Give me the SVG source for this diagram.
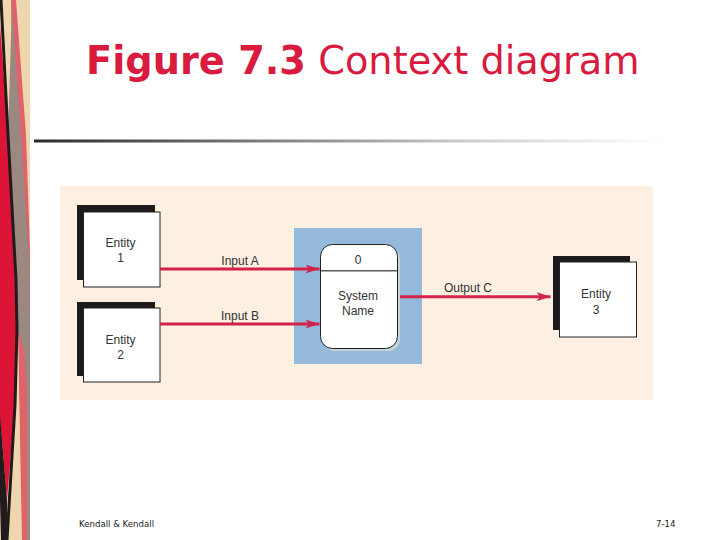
<svg xmlns="http://www.w3.org/2000/svg" width="720" height="540" viewBox="0 0 720 540">
  <style>
    .lbl { font-family: "Liberation Sans", Arial, sans-serif; font-size: 12px; fill: #333333; text-anchor: middle; }
    .ent { fill: #ffffff; stroke: #222222; stroke-width: 1; }
    .shd { fill: #1c1a1a; }
    .flow { stroke: #d2234a; stroke-width: 3; fill: none; marker-end: url(#arr); }
    .foot { font-family: "DejaVu Sans", Verdana, sans-serif; font-size: 8.6px; fill: #222222; }
  </style>
  <defs>
    <marker id="arr" markerUnits="userSpaceOnUse" markerWidth="16" markerHeight="10" refX="14" refY="5" orient="auto" viewBox="0 0 16 10">
      <path d="M0,0.5 L14,5 L0,9.5 L3.5,5 z" fill="#d2234a"/>
    </marker>
    <linearGradient id="sep" x1="0" y1="0" x2="1" y2="0">
      <stop offset="0" stop-color="#2a2a2a"/>
      <stop offset="0.35" stop-color="#7a7a7a"/>
      <stop offset="0.7" stop-color="#cfcfcf"/>
      <stop offset="1" stop-color="#ffffff"/>
    </linearGradient>
  </defs>

  <rect x="0" y="0" width="720" height="540" fill="#ffffff"/>

  <!-- left decoration -->
  <g id="decoration">
    <rect x="0" y="0" width="30" height="540" fill="#eed7ae"/>
    <polygon points="11,0 16,0 26,135 30,250 30,540 21,540 18,330" fill="#e0626a"/>
    <polygon points="12,4 8,135 16,280 18,330 24,350 27,390 27,540 30,540 30,270 21,135" fill="#9b8880"/>
    <polygon points="18,335 22,540 9,540" fill="#eed7ae"/>
    <polygon points="0,25 8,135 16,280 17,330 15,405 7,500 2,440 0,420" fill="#dc1538"/>
    <path d="M1,0 L8,135 L16,280 L17,330 L15,405 L7,540" stroke="#231a1c" stroke-width="3" fill="none"/>
    <polygon points="0,415 7,500 7,540 1,540 0,500" fill="#231a1c"/>
  </g>

  <!-- title -->
  <g id="title">
    <text x="86" y="74" font-family="'DejaVu Sans', Verdana, sans-serif" font-size="38.3" fill="#d81b3f"><tspan font-weight="bold">Figure 7.3</tspan> Context diagram</text>
    <rect x="34" y="139.5" width="630" height="3" fill="url(#sep)"/>
  </g>

  <!-- panel -->
  <rect id="panel" x="60" y="186" width="593" height="214" fill="#fdefe2"/>

  <g id="system-bg">
    <rect x="294" y="228" width="128" height="136" fill="#95b9db"/>
  </g>

  <g id="entity1">
    <rect class="shd" x="77" y="205" width="78" height="75"/>
    <rect class="ent" x="83.5" y="212" width="76.5" height="75"/>
    <text class="lbl" x="120.5" y="246.5">Entity</text>
    <text class="lbl" x="120.5" y="261.5">1</text>
  </g>

  <g id="entity2">
    <rect class="shd" x="77" y="302" width="78" height="74"/>
    <rect class="ent" x="83.5" y="308" width="76.5" height="74"/>
    <text class="lbl" x="120.5" y="343.5">Entity</text>
    <text class="lbl" x="120.5" y="358.5">2</text>
  </g>

  <g id="process0">
    <rect x="323" y="247" width="77" height="104" rx="12" fill="#c4d4da"/>
    <rect x="320.5" y="244.5" width="77" height="104" rx="12" fill="#ffffff" stroke="#222222" stroke-width="1"/>
    <line x1="321" y1="270.7" x2="397" y2="270.7" stroke="#5a5a5a" stroke-width="1.4"/>
    <text class="lbl" x="358" y="263.5">0</text>
    <text class="lbl" x="358" y="300">System</text>
    <text class="lbl" x="358" y="315">Name</text>
  </g>

  <g id="entity3">
    <rect class="shd" x="553" y="256" width="77" height="74"/>
    <rect class="ent" x="559.5" y="262" width="77" height="75"/>
    <text class="lbl" x="596" y="298">Entity</text>
    <text class="lbl" x="596" y="313.5">3</text>
  </g>

  <g id="connectors">
    <line class="flow" x1="160" y1="269" x2="319.5" y2="269"/>
    <text class="lbl" x="240" y="265">Input A</text>
    <line class="flow" x1="160" y1="324" x2="319.5" y2="324"/>
    <text class="lbl" x="240" y="320">Input B</text>
    <line class="flow" x1="400" y1="296.7" x2="550.5" y2="296.7"/>
    <text class="lbl" x="468" y="291.7">Output C</text>
  </g>

  <g id="footer">
    <text class="foot" x="79" y="527">Kendall &amp; Kendall</text>
    <text class="foot" x="656" y="527">7-14</text>
  </g>
</svg>
